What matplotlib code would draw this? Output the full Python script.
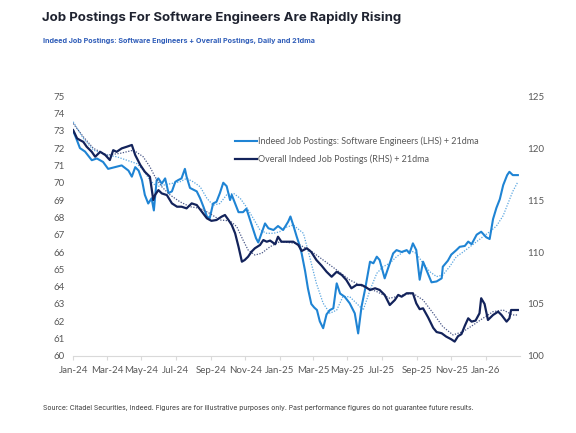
import matplotlib.pyplot as plt
import matplotlib.dates as mdates
import numpy as np
import pandas as pd

# x values are days since 2024-01-01
sw_day = [0, 5, 12, 21, 33, 42, 53, 62, 74, 86, 98, 104, 110, 116, 122, 127, 133, 139, 143, 148,
          151, 157, 163, 169, 175, 181, 186, 192, 198, 201, 207, 213, 219, 225, 231, 237, 242, 248,
          254, 260, 266, 272, 278, 281, 287, 293, 301, 307, 313, 319, 324, 328, 334, 340, 346, 355,
          363, 372, 381, 385, 390, 396, 402, 405, 411, 416, 422, 427, 432, 437, 443, 449, 455, 461,
          467, 473, 481, 490, 499, 505, 511, 517, 526, 532, 538, 543, 552, 558, 567, 573, 582, 591,
          596, 602, 608, 614, 620, 626, 635, 644, 653, 655, 664, 670, 679, 685, 694, 700, 706, 715,
          723, 732, 738, 744, 750, 756, 762, 769, 773, 779, 788]
sw_val = [73.0, 72.6, 72.0, 71.8, 71.3, 71.4, 71.2, 70.8, 70.9, 71.0, 70.7, 70.35, 70.9, 70.7, 70.15,
          69.3, 68.8, 69.1, 68.4, 70.15, 70.25, 69.95, 70.25, 69.4, 69.5, 70.05, 70.15, 70.25, 70.8,
          70.35, 69.7, 69.6, 69.5, 69.1, 68.6, 68.05, 67.95, 68.8, 68.9, 69.4, 70.0, 69.8, 69.0, 69.3,
          68.8, 68.3, 68.3, 68.5, 67.9, 67.3, 66.8, 66.55, 67.1, 67.65, 67.37, 67.27, 67.5, 67.27,
          67.75, 68.05, 67.55, 66.9, 66.3, 65.9, 64.9, 63.9, 63.0, 62.8, 62.65, 62.0, 61.6, 62.4,
          62.65, 62.75, 64.19, 63.6, 63.42, 63.04, 62.46, 61.3, 62.85, 63.8, 65.44, 65.35, 65.73,
          65.54, 64.48, 65.06, 65.92, 66.11, 66.0, 66.11, 65.92, 66.5, 66.11, 64.4, 65.44, 64.96,
          64.25, 64.3, 64.48, 65.15, 65.5, 65.85, 66.11, 66.3, 66.35, 66.6, 66.45, 67.0, 67.17,
          66.85, 66.75, 67.9, 68.55, 69.05, 69.86, 70.44, 70.63, 70.44, 70.44]

sw_ma_day = [0, 18, 36, 60, 77, 95, 113, 124, 136, 148, 160, 175, 189, 201, 213, 225, 237, 248, 260,
             272, 284, 296, 307, 319, 331, 343, 355, 366, 372, 390, 408, 419, 431, 443, 455, 467, 478,
             490, 502, 514, 526, 538, 549, 561, 573, 585, 596, 608, 620, 632, 644, 655, 667, 679, 691,
             703, 715, 726, 738, 750, 762, 768, 779, 788]
sw_ma_val = [73.52, 72.56, 71.88, 71.6, 71.5, 71.3, 71.1, 70.73, 70.15, 69.77, 69.86, 69.96, 70.05,
             70.25, 70.05, 69.77, 69.1, 68.7, 68.8, 69.3, 69.39, 69.1, 68.6, 67.95, 67.27, 67.08,
             67.08, 67.17, 67.37, 67.56, 67.08, 65.73, 64.19, 63.04, 62.46, 62.65, 63.42, 63.42,
             63.04, 62.65, 63.8, 64.77, 65.15, 65.35, 65.73, 66.0, 66.11, 65.92, 65.35, 64.86, 64.58,
             64.67, 65.15, 65.73, 66.0, 66.3, 66.6, 66.88, 67.17, 67.5, 68.1, 68.6, 69.5, 70.05]

all_day = [0, 7, 12, 18, 24, 33, 39, 48, 57, 65, 71, 77, 86, 95, 104, 110, 119, 127, 136, 142, 145,
           151, 157, 166, 175, 184, 192, 201, 210, 219, 228, 237, 245, 254, 263, 269, 275, 281, 287,
           293, 299, 304, 310, 316, 322, 331, 337, 343, 349, 358, 363, 369, 381, 390, 399, 405, 414,
           422, 431, 440, 449, 458, 467, 476, 484, 493, 502, 511, 517, 526, 535, 543, 552, 561, 570,
           576, 582, 591, 602, 608, 614, 620, 629, 638, 644, 653, 661, 670, 676, 682, 688, 694, 700,
           706, 713, 720, 723, 729, 735, 744, 753, 759, 768, 773, 776, 788]
all_val = [121.73, 120.93, 120.77, 120.6, 120.13, 119.64, 119.17, 119.64, 119.33, 118.85, 119.8,
           119.64, 119.97, 120.13, 120.3, 119.33, 118.37, 117.72, 117.24, 115.0, 115.48, 115.96,
           115.64, 115.48, 114.68, 114.36, 114.36, 114.2, 114.68, 114.52, 113.88, 113.24, 113.0,
           113.08, 113.4, 113.56, 113.1, 112.6, 111.8, 110.51, 109.07, 109.23, 109.55, 110.03,
           110.36, 110.67, 111.15, 110.99, 111.1, 110.75, 111.47, 110.99, 110.99, 110.99, 110.67,
           110.1, 110.36, 110.0, 109.23, 108.7, 108.1, 107.62, 108.1, 107.79, 107.31, 106.51,
           106.83, 106.83, 106.67, 106.35, 106.51, 106.35, 105.87, 104.9, 105.38, 105.87, 105.7,
           106.03, 106.03, 105.06, 104.5, 104.58, 103.7, 102.7, 102.3, 102.18, 101.86, 101.6,
           101.38, 101.9, 102.1, 102.9, 103.62, 103.3, 103.4, 104.1, 105.55, 105.0, 103.46, 103.94,
           104.26, 103.94, 103.3, 103.62, 104.42, 104.42]

all_ma_day = [0, 18, 36, 60, 83, 107, 124, 136, 145, 157, 172, 189, 207, 225, 242, 260, 278, 290,
              301, 310, 322, 334, 349, 366, 396, 419, 443, 467, 490, 514, 538, 561, 585, 602, 620,
              638, 655, 673, 691, 709, 726, 744, 762, 779, 788]
all_ma_val = [122.37, 121.09, 119.97, 119.33, 119.49, 119.8, 119.17, 118.2, 117.24, 116.28, 115.48,
              114.84, 114.36, 114.2, 113.72, 113.08, 113.0, 112.43, 111.15, 110.19, 109.71, 109.88,
              110.51, 110.99, 110.83, 110.19, 109.23, 108.27, 107.31, 106.67, 106.19, 105.55, 105.87,
              106.03, 105.38, 104.1, 102.82, 102.02, 102.34, 102.98, 103.62, 104.26, 104.42, 103.94,
              103.94]

tick_months = ['2024-01', '2024-03', '2024-05', '2024-07', '2024-09', '2024-11', '2025-01',
               '2025-03', '2025-05', '2025-07', '2025-09', '2025-11', '2026-01']

start = pd.Timestamp('2024-01-01')


def to_dates(days):
    return start + pd.to_timedelta(np.array(days), unit='D')


light = '#1f84d4'
navy = '#13235b'
grey = '#595959'

plt.rcParams['font.family'] = ['Lato', 'DejaVu Sans']

fig = plt.figure(figsize=(5.76, 4.33), dpi=100)
ax = fig.add_axes([0.127, 0.178, 0.776, 0.6])
ax2 = ax.twinx()

ax.plot(to_dates(sw_ma_day), sw_ma_val, color='#5aa6e0', lw=0.9, ls=(0, (1, 1.2)))
ax.plot(to_dates(sw_day), sw_val, color=light, lw=1.5,
        label='Indeed Job Postings: Software Engineers (LHS) + 21dma')
ax2.plot(to_dates(all_ma_day), all_ma_val, color='#4a5888', lw=0.9, ls=(0, (1, 1.2)))
ax2.plot(to_dates(all_day), all_val, color=navy, lw=1.6,
         label='Overall Indeed Job Postings (RHS) + 21dma')

ax.set_xlim(start, pd.Timestamp('2026-03-03'))
ax.set_ylim(60, 75)
ax2.set_ylim(100, 125)
ax.set_yticks(range(60, 76))
ax2.set_yticks(range(100, 126, 5))

ax.set_xticks(pd.to_datetime(tick_months))
ax.xaxis.set_major_formatter(mdates.DateFormatter('%b-%y'))

for a in (ax, ax2):
    for s in a.spines.values():
        s.set_visible(False)
    a.tick_params(axis='y', length=0, labelsize=7, labelcolor=grey, pad=6)
ax.spines['bottom'].set_visible(True)
ax.spines['bottom'].set_color('#d9d9d9')
ax.tick_params(axis='x', length=3, color='#d9d9d9', labelsize=7, labelcolor=grey, pad=4)
ax2.tick_params(axis='y', pad=5)

h1, l1 = ax.get_legend_handles_labels()
h2, l2 = ax2.get_legend_handles_labels()
ax2.legend(h1 + h2, l1 + l2, loc='upper left', bbox_to_anchor=(0.345, 0.875), frameon=False,
           fontsize=6.5, handlelength=2.4, handletextpad=0.1, labelspacing=0.9, labelcolor=grey)

fig.text(0.073, 0.96, 'Job Postings For Software Engineers Are Rapidly Rising',
         family=['Inter', 'DejaVu Sans'], fontsize=9.5, fontweight='bold', color='#1f2330',
         va='center')
fig.text(0.075, 0.905, 'Indeed Job Postings: Software Engineers + Overall Postings, Daily and 21dma',
         family=['Inter', 'DejaVu Sans'], fontsize=5.2, fontweight='bold', color='#2e5cb8',
         va='center')
fig.text(0.075, 0.058, 'Source: Citadel Securities, Indeed. Figures are for illustrative purposes only. '
         'Past performance figures do not guarantee future results.',
         family=['Inter', 'DejaVu Sans'], fontsize=4.9, color='#3a3a3a', va='center')

fig.savefig('out.png', dpi=100)
